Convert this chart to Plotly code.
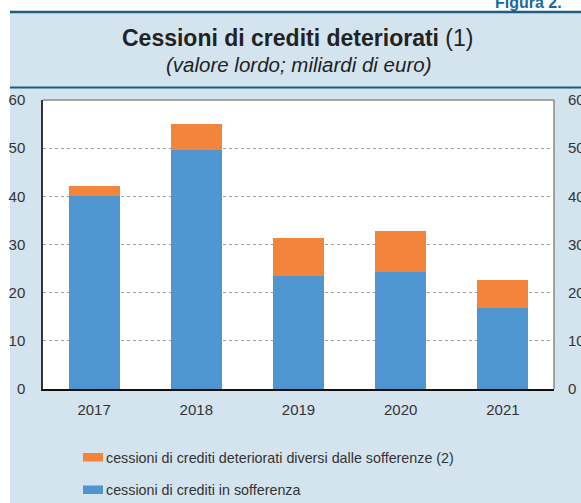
import plotly.graph_objects as go

years = ["2017", "2018", "2019", "2020", "2021"]
sofferenze = [40.0, 49.7, 23.4, 24.2, 16.9]
altri_deteriorati = [2.1, 5.4, 8.0, 8.6, 5.8]
y_ticks = [0, 10, 20, 30, 40, 50, 60]

name_blue = "cessioni di crediti in sofferenza"
name_orange = "cessioni di crediti deteriorati diversi dalle sofferenze (2)"

BLUE = "#4f95d0"
ORANGE = "#f2843b"
PANEL = "#d3e4ee"
DARK = "#1d5d80"

W, H = 581, 503
L, R, T, B = 43, 554, 100, 389


def px(x):
    return (x - L) / (R - L)


def py(y):
    return (B - y) / (B - T)


fig = go.Figure()
fig.add_trace(go.Bar(x=years, y=sofferenze, name=name_blue, marker=dict(color=BLUE, line=dict(width=0)),
                     showlegend=False))
fig.add_trace(go.Bar(x=years, y=altri_deteriorati, name=name_orange, marker=dict(color=ORANGE, line=dict(width=0)),
                     showlegend=False))
fig.add_trace(go.Scatter(x=years, y=[None] * len(years), yaxis="y2", mode="markers",
                         showlegend=False, hoverinfo="skip"))

font_main = "Liberation Sans, Arial, sans-serif"
tick_font = dict(family=font_main, size=15, color="#333333")

shapes = [
    # white strips
    dict(type="rect", xref="paper", yref="paper", x0=px(0), x1=px(W), y0=py(0), y1=py(11),
         fillcolor="white", line=dict(width=0), layer="below"),
    dict(type="rect", xref="paper", yref="paper", x0=px(0), x1=px(10), y0=py(0), y1=py(H),
         fillcolor="white", line=dict(width=0), layer="below"),
    # dark rules
    dict(type="line", xref="paper", yref="paper", x0=px(10), x1=px(W), y0=py(12), y1=py(12),
         line=dict(color=DARK, width=2.5)),
    dict(type="line", xref="paper", yref="paper", x0=px(10), x1=px(W), y0=py(87.5), y1=py(87.5),
         line=dict(color=DARK, width=2)),
    # frame top and right
    dict(type="line", xref="paper", yref="paper", x0=0, x1=1, y0=1, y1=1,
         line=dict(color="#8a8a8a", width=1.5)),
    dict(type="line", xref="paper", yref="paper", x0=1, x1=1, y0=0, y1=1,
         line=dict(color="#8a8a8a", width=1.5)),
    # legend swatches
    dict(type="rect", xref="paper", yref="paper", x0=px(83), x1=px(103), y0=py(453), y1=py(461.5),
         fillcolor=ORANGE, line=dict(width=0)),
    dict(type="rect", xref="paper", yref="paper", x0=px(83), x1=px(103), y0=py(485.5), y1=py(494),
         fillcolor=BLUE, line=dict(width=0)),
]

annotations = [
    dict(xref="paper", yref="paper", x=px(297.5), y=py(38), xanchor="center", yanchor="middle",
         text="<b>Cessioni di crediti deteriorati</b> (1)", showarrow=False,
         font=dict(family=font_main, size=23, color="#222222")),
    dict(xref="paper", yref="paper", x=px(298.5), y=py(64), xanchor="center", yanchor="middle",
         text="<i>(valore lordo; miliardi di euro)</i>", showarrow=False,
         font=dict(family=font_main, size=20.5, color="#222222")),
    dict(xref="paper", yref="paper", x=px(493), y=py(3), xanchor="left", yanchor="middle",
         text="<b>Figura 2.</b>", showarrow=False,
         font=dict(family=font_main, size=16, color="#1a6a99")),
    dict(xref="paper", yref="paper", x=px(103.5), y=py(457.5), xanchor="left", yanchor="middle",
         text=name_orange, showarrow=False,
         font=dict(family=font_main, size=14.3, color="#333333")),
    dict(xref="paper", yref="paper", x=px(103.5), y=py(490), xanchor="left", yanchor="middle",
         text=name_blue, showarrow=False,
         font=dict(family=font_main, size=14.3, color="#333333")),
]

fig.update_layout(
    width=W, height=H,
    margin=dict(l=L, r=W - R, t=T, b=H - B, pad=0, autoexpand=False),
    paper_bgcolor=PANEL,
    plot_bgcolor="white",
    barmode="stack",
    bargap=0.5,
    showlegend=False,
    shapes=shapes,
    annotations=annotations,
    xaxis=dict(showline=True, linecolor="#111111", linewidth=1.5, ticks="", showgrid=False,
               tickfont=tick_font, ticklabelstandoff=6, automargin=False),
    yaxis=dict(range=[0, 60], tickvals=y_ticks, showline=True, linecolor="#333333", linewidth=1.5,
               showgrid=True, gridcolor="#a0a0a0", griddash="dot", gridwidth=1, zeroline=False,
               tickfont=tick_font, ticklabelstandoff=13, ticks="", automargin=False),
    yaxis2=dict(range=[0, 60], tickvals=y_ticks, overlaying="y", side="right", showgrid=False,
                zeroline=False, showline=False, tickfont=tick_font, ticklabelstandoff=13, ticks="",
                automargin=False),
)

fig.write_html(
    "out.html",
    config={"displayModeBar": False},
    post_script="document.body.style.margin='0';document.body.style.padding='0';"
                "document.body.style.overflow='hidden';",
)
